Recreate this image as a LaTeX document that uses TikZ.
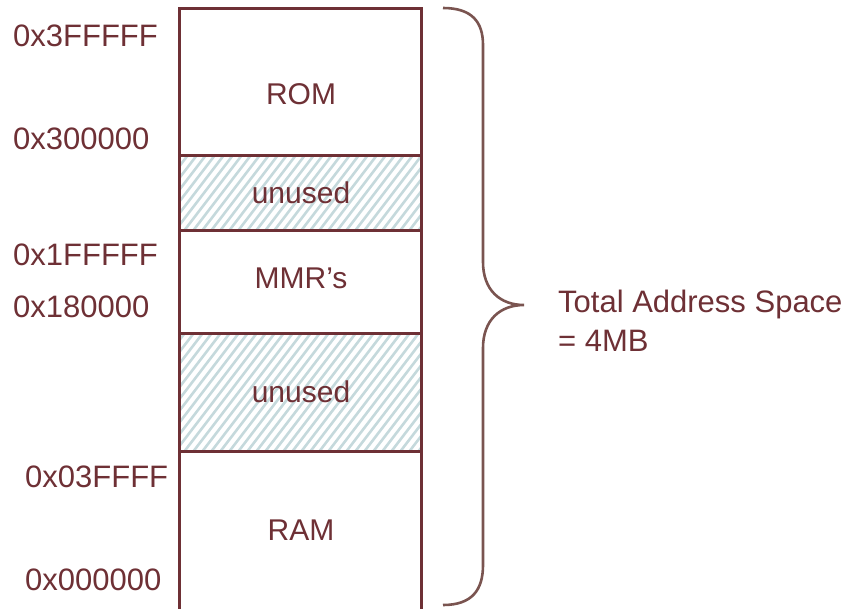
\documentclass[tikz,border=0pt]{standalone}
\usepackage{fontspec}
\setmainfont{Liberation Sans}
\definecolor{maroon}{HTML}{6E3035}
\definecolor{bracecol}{HTML}{7A5450}
\definecolor{hatchcol}{HTML}{C5D9DC}
\tikzset{
  addr/.style={anchor=base west, inner sep=0pt, text=maroon, font=\fontsize{31}{36}\selectfont},
  seglabel/.style={anchor=base, inner sep=0pt, text=maroon, font=\fontsize{30}{36}\selectfont},
  segline/.style={draw=maroon, line width=3pt},
  hatchline/.style={draw=hatchcol, line width=2.6pt},
}
\begin{document}
\begin{tikzpicture}[x=1pt,y=-1pt]
\useasboundingbox (0,0) rectangle (853,608);
% hatched unused regions
\foreach \ya/\yb in {155/230,333/451}{
  \begin{scope}
    \clip (179,\ya) rectangle (421,\yb);
    \foreach \x in {60,69,...,440}
      \draw[hatchline] (\x,\yb+10) -- ++(130,-170);
  \end{scope}
}
% memory box
\draw[segline] (179,612) -- (179,8) -- (421,8) -- (421,612);
\foreach \y in {155,230,333,451}
  \draw[segline] (179,\y) -- (421,\y);
% segment labels
\node[seglabel] (rom) at (301,104) {ROM};
\node[seglabel] (unused1) at (301,203) {unused};
\node[seglabel] (mmr) at (301,288) {MMR’s};
\node[seglabel] (unused2) at (301,402) {unused};
\node[seglabel] (ram) at (301,540) {RAM};
% addresses
\node[addr] (a1) at (13,46) {0x3FFFFF};
\node[addr] (a2) at (13,149) {0x300000};
\node[addr] (a3) at (13,265) {0x1FFFFF};
\node[addr] (a4) at (13,317) {0x180000};
\node[addr] (a5) at (25,487) {0x03FFFF};
\node[addr] (a6) at (25,590) {0x000000};
% brace
\draw[bracecol, line width=2.6pt]
  (443,8) .. controls (472,8) and (483,22) .. (483,45)
  -- (483,262)
  .. controls (483,290) and (500,305) .. (524,305)
  .. controls (500,305) and (483,320) .. (483,348)
  -- (483,565)
  .. controls (483,590) and (472,605) .. (443,605);
\node[addr] (tot) at (558,312) {Total Address Space};
\node[addr] (mb) at (558,351) {= 4MB};
\end{tikzpicture}
\end{document}
